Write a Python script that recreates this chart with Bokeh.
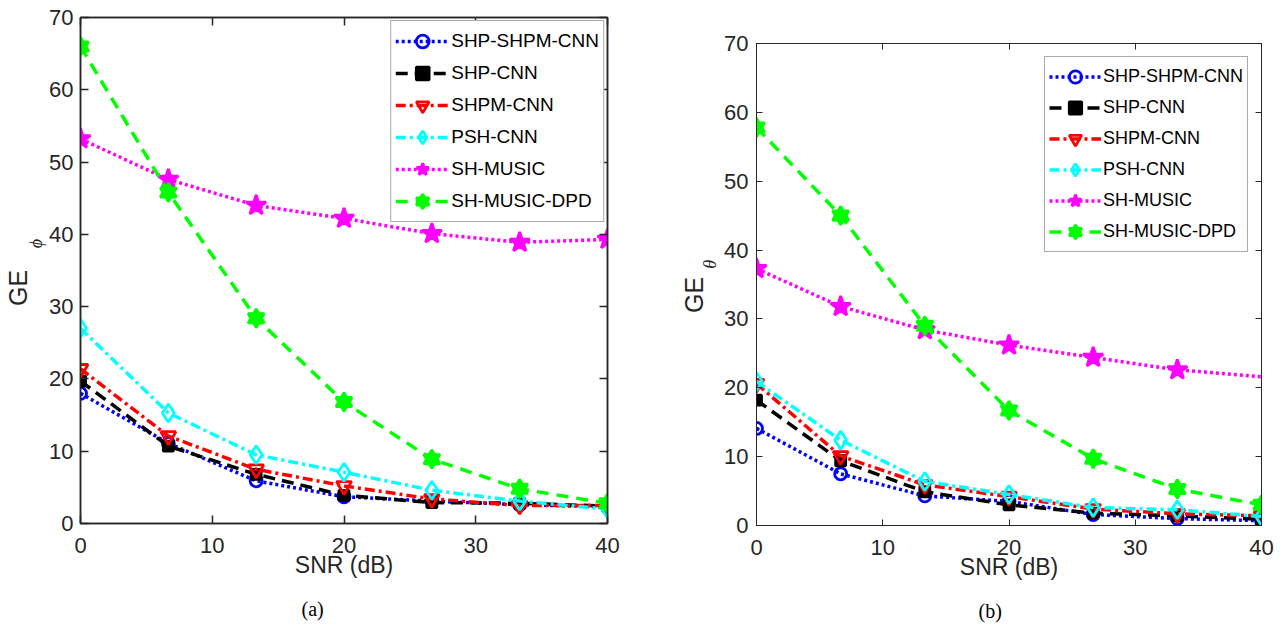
from bokeh.plotting import figure
from bokeh.layouts import row, column
from bokeh.models import Range1d, LinearAxis, FixedTicker, Legend, LegendItem, Title
from bokeh.embed import file_html
from bokeh.resources import INLINE

# ---------------- data ----------------
snr_db = [0, 6.667, 13.333, 20, 26.667, 33.333, 40]
series_names = ["SHP-SHPM-CNN", "SHP-CNN", "SHPM-CNN", "PSH-CNN", "SH-MUSIC", "SH-MUSIC-DPD"]

# (a) GE_phi
phi_shp_shpm_cnn = [18.0, 11.1, 5.9, 3.7, 3.1, 2.6, 2.3]
phi_shp_cnn = [19.7, 10.7, 6.8, 3.9, 2.9, 2.8, 2.4]
phi_shpm_cnn = [21.4, 12.1, 7.5, 5.2, 3.4, 2.5, 2.5]
phi_psh_cnn = [27.0, 15.3, 9.5, 7.1, 4.6, 3.1, 2.0]
phi_sh_music = [53.2, 47.6, 44.0, 42.2, 40.1, 38.9, 39.3]
phi_sh_music_dpd = [66.0, 45.8, 28.4, 16.8, 8.9, 4.8, 2.8]

# (b) GE_theta
theta_shp_shpm_cnn = [14.1, 7.5, 4.3, 3.5, 1.6, 1.0, 0.7]
theta_shp_cnn = [18.2, 9.4, 4.9, 3.0, 1.8, 1.4, 0.9]
theta_shpm_cnn = [20.6, 10.1, 5.9, 4.2, 2.4, 1.7, 1.4]
theta_psh_cnn = [20.9, 12.4, 6.4, 4.5, 2.6, 2.3, 1.3]
theta_sh_music = [37.3, 31.8, 28.4, 26.2, 24.4, 22.6, 21.6]
theta_sh_music_dpd = [57.8, 45.0, 29.0, 16.7, 9.7, 5.3, 3.0]

x_ticks = [0, 10, 20, 30, 40]
y_ticks = [0, 10, 20, 30, 40, 50, 60, 70]
x_label = "SNR (dB)"
y_label_main = "GE"

# ---------------- styles ----------------
STYLES = [
    dict(color="#0000ff", dash="3 3", markers=["circle"], size=12, fill=None),
    dict(color="#000000", dash="12 7", markers=["square"], size=10, fill="#000000"),
    dict(color="#ff0000", dash="10 4 3 4", markers=["inverted_triangle"], size=15, fill=None),
    dict(color="#00ffff", dash="10 4 3 4", markers=["diamond"], size=18, fill=None),
    dict(color="#ff00ff", dash="3 3", markers=["star"], size=21, fill="#ff00ff"),
    dict(color="#00ff00", dash="12 8", markers=["triangle", "inverted_triangle"], size=16, fill="#00ff00"),
]

AX = "#262626"
FONT = "Liberation Sans"
NB = "\u00a0"


def label_axis(text, font, size, style, standoff):
    return LinearAxis(ticker=FixedTicker(ticks=[]), axis_line_color=None,
                      major_tick_line_color=None, minor_tick_line_color=None,
                      major_tick_out=0, major_tick_in=0, major_label_standoff=0,
                      axis_label=text, axis_label_text_font=font,
                      axis_label_text_font_size=size, axis_label_text_font_style=style,
                      axis_label_text_color=AX, axis_label_standoff=standoff)


def make_panel(series, marker_counts, width, height, bl, br, bt, bb,
               sub_text, sub_standoff, ge_text, ge_standoff, ylab_standoff,
               panel_tag, tag_offset, legend_cfg, axis_w, tick_len):
    p = figure(width=width, height=height, x_range=Range1d(0, 40), y_range=Range1d(0, 70),
               output_backend="svg", toolbar_location=None, title=None,
               min_border_left=bl, min_border_right=br, min_border_top=bt, min_border_bottom=bb)
    p.grid.visible = False
    p.outline_line_color = AX
    p.outline_line_width = axis_w
    p.background_fill_color = "white"
    p.border_fill_color = "white"

    for ax, ticks in ((p.xaxis[0], x_ticks), (p.yaxis[0], y_ticks)):
        ax.ticker = FixedTicker(ticks=ticks)
        ax.major_tick_in = tick_len
        ax.major_tick_out = 0
        ax.minor_tick_line_color = None
        ax.axis_line_color = AX
        ax.axis_line_width = axis_w
        ax.major_tick_line_color = AX
        ax.major_tick_line_width = axis_w
        ax.major_label_text_font = FONT
        ax.major_label_text_font_size = "22px"
        ax.major_label_text_color = AX
    p.yaxis[0].major_label_standoff = ylab_standoff
    p.xaxis[0].major_label_standoff = 14
    p.xaxis[0].axis_label = x_label
    p.xaxis[0].axis_label_text_font = FONT
    p.xaxis[0].axis_label_text_font_size = "23px"
    p.xaxis[0].axis_label_text_font_style = "normal"
    p.xaxis[0].axis_label_text_color = AX
    p.xaxis[0].axis_label_standoff = -4

    # y-axis title: subscript band next to the tick labels, "GE" band outside it
    p.add_layout(label_axis(sub_text, "Liberation Serif", "18px", "italic", sub_standoff), "left")
    p.add_layout(label_axis(ge_text, FONT, "25px", "normal", ge_standoff), "left")

    # mirrored ticks on top and right (box style)
    for loc, ticks in (("above", x_ticks), ("right", y_ticks)):
        m = LinearAxis(ticker=FixedTicker(ticks=ticks), major_label_text_color=None,
                       major_label_text_font_size="1px", major_label_standoff=0,
                       major_tick_in=tick_len, major_tick_out=0, minor_tick_line_color=None,
                       axis_line_color=AX, axis_line_width=axis_w,
                       major_tick_line_color=AX, major_tick_line_width=axis_w)
        p.add_layout(m, loc)

    items = []
    for name, ys, st, nmark in zip(series_names, series, STYLES, marker_counts):
        rs = [p.line(snr_db, ys, line_color=st["color"], line_width=3.5, line_dash=st["dash"])]
        for mk in st["markers"]:
            rs.append(p.scatter(snr_db[:nmark], ys[:nmark], marker=mk, size=st["size"],
                                line_color=st["color"], line_width=2.8,
                                fill_color=st["fill"]))
        items.append(LegendItem(label=name, renderers=rs))

    lg = Legend(items=items, location="top_right",
                label_text_font=FONT, label_text_font_size=legend_cfg["font"],
                label_text_color="#000000",
                glyph_width=legend_cfg["gw"], glyph_height=legend_cfg["gh"], label_height=20,
                label_standoff=2, spacing=0,
                padding=legend_cfg["padding"], margin=legend_cfg["margin"],
                border_line_color="#555555", border_line_width=1,
                background_fill_color="white", background_fill_alpha=1.0)
    p.add_layout(lg)

    p.add_layout(Title(text=panel_tag, align="left", offset=tag_offset,
                       text_font="Liberation Serif", text_font_size="20px",
                       text_font_style="normal", text_color="#000000", standoff=30), "below")
    return p


H = 636
p1 = make_panel(
    [phi_shp_shpm_cnn, phi_shp_cnn, phi_shpm_cnn, phi_psh_cnn, phi_sh_music, phi_sh_music_dpd],
    [7, 7, 7, 7, 7, 7],
    width=640, height=H, bl=77, br=33, bt=17, bb=113,
    sub_text=NB * 12 + "\u03d5", sub_standoff=1,
    ge_text=y_label_main + NB * 5, ge_standoff=-9, ylab_standoff=7,
    panel_tag="(a)", tag_offset=221,
    legend_cfg=dict(font="19px", gw=54, gh=32, padding=4, margin=3),
    axis_w=1.5, tick_len=8)

p2 = make_panel(
    [theta_shp_shpm_cnn, theta_shp_cnn, theta_shpm_cnn, theta_psh_cnn, theta_sh_music, theta_sh_music_dpd],
    [7, 7, 7, 7, 6, 7],
    width=642, height=H, bl=116, br=21, bt=43, bb=107,
    sub_text=NB * 9 + "\u03b8", sub_standoff=2,
    ge_text=y_label_main + NB * 3, ge_standoff=-11, ylab_standoff=8,
    panel_tag="(b)", tag_offset=222,
    legend_cfg=dict(font="18px", gw=52, gh=31, padding=4, margin=13),
    axis_w=1, tick_len=6)

layout = row(column(p1), column(p2))
open("out.html", "w").write(file_html(layout, INLINE))
